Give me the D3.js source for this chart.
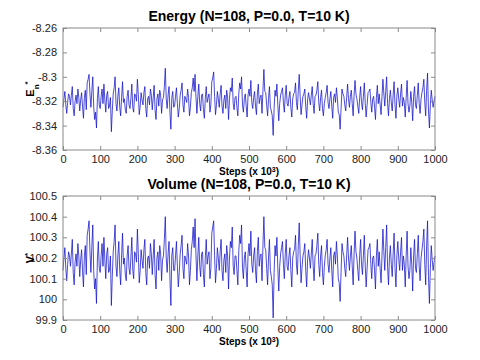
<!DOCTYPE html>
<html><head><meta charset="utf-8">
<script src="https://cdn.jsdelivr.net/npm/d3@7"></script>
<style>body{margin:0;background:#fff}svg{display:block}</style>
</head><body>
<svg id="c" width="480" height="360"></svg>
<script>
const stepInterval = 5; // x 10^3 steps between samples in the main arrays
// samples at steps 0,5,...,1000
const energy = [
-8.325,-8.312,-8.330,-8.314,-8.323,-8.308,-8.332,-8.315,-8.310,-8.328,
-8.313,-8.334,-8.311,-8.305,-8.298,-8.325,-8.300,-8.335,-8.342,-8.308,
-8.326,-8.310,-8.306,-8.329,-8.312,-8.324,-8.345,-8.314,-8.300,-8.328,
-8.309,-8.332,-8.304,-8.318,-8.330,-8.311,-8.326,-8.306,-8.329,-8.315,
-8.302,-8.331,-8.313,-8.323,-8.308,-8.333,-8.316,-8.310,-8.327,-8.307,
-8.335,-8.314,-8.311,-8.330,-8.317,-8.293,-8.326,-8.308,-8.343,-8.312,
-8.324,-8.309,-8.333,-8.315,-8.305,-8.329,-8.318,-8.310,-8.332,-8.313,
-8.301,-8.298,-8.330,-8.306,-8.328,-8.314,-8.334,-8.308,-8.317,-8.329,
-8.304,-8.296,-8.331,-8.312,-8.325,-8.307,-8.330,-8.315,-8.311,-8.335,
-8.309,-8.301,-8.327,-8.316,-8.332,-8.305,-8.300,-8.329,-8.314,-8.333,
-8.310,-8.303,-8.326,-8.312,-8.331,-8.306,-8.317,-8.330,-8.294,-8.313,
-8.332,-8.308,-8.328,-8.348,-8.311,-8.306,-8.336,-8.315,-8.309,-8.329,
-8.307,-8.324,-8.312,-8.333,-8.314,-8.305,-8.327,-8.298,-8.331,-8.316,
-8.310,-8.334,-8.313,-8.323,-8.308,-8.330,-8.315,-8.304,-8.328,-8.311,
-8.332,-8.317,-8.307,-8.326,-8.312,-8.334,-8.314,-8.309,-8.329,-8.343,
-8.310,-8.316,-8.328,-8.306,-8.325,-8.311,-8.332,-8.303,-8.318,-8.330,
-8.308,-8.327,-8.305,-8.333,-8.313,-8.310,-8.329,-8.316,-8.335,-8.307,
-8.314,-8.331,-8.302,-8.324,-8.300,-8.332,-8.311,-8.328,-8.304,-8.334,
-8.309,-8.325,-8.306,-8.317,-8.333,-8.303,-8.329,-8.312,-8.336,-8.308,
-8.326,-8.305,-8.330,-8.313,-8.302,-8.332,-8.297,-8.342,-8.311,-8.325,
-8.316];
// samples at steps 2.5,7.5,...,997.5
const energyMid = [
-8.318,-8.323,-8.321,-8.316,-8.315,-8.326,-8.320,-8.322,-8.317,-8.319,
-8.324,-8.317,-8.327,-8.302,-8.314,-8.312,-8.324,-8.329,-8.318,-8.323,
-8.316,-8.322,-8.319,-8.315,-8.326,-8.317,-8.328,-8.309,-8.322,-8.316,
-8.325,-8.317,-8.321,-8.327,-8.316,-8.323,-8.318,-8.325,-8.314,-8.320,
-8.315,-8.324,-8.319,-8.313,-8.326,-8.318,-8.323,-8.315,-8.317,-8.327,
-8.318,-8.324,-8.315,-8.319,-8.308,-8.318,-8.315,-8.329,-8.317,-8.325,
-8.316,-8.322,-8.326,-8.311,-8.323,-8.316,-8.321,-8.317,-8.325,-8.309,
-8.312,-8.317,-8.316,-8.322,-8.315,-8.327,-8.318,-8.321,-8.314,-8.323,
-8.301,-8.316,-8.323,-8.318,-8.314,-8.324,-8.319,-8.326,-8.317,-8.318,
-8.312,-8.322,-8.317,-8.325,-8.314,-8.310,-8.323,-8.318,-8.324,-8.315,
-8.316,-8.321,-8.317,-8.324,-8.314,-8.322,-8.315,-8.311,-8.312,-8.323,
-8.318,-8.325,-8.332,-8.326,-8.316,-8.323,-8.322,-8.312,-8.321,-8.315,
-8.322,-8.317,-8.325,-8.318,-8.313,-8.321,-8.311,-8.316,-8.323,-8.314,
-8.324,-8.319,-8.318,-8.315,-8.322,-8.316,-8.311,-8.321,-8.317,-8.326,
-8.322,-8.313,-8.321,-8.318,-8.324,-8.317,-8.321,-8.317,-8.331,-8.326,
-8.314,-8.323,-8.317,-8.318,-8.316,-8.322,-8.315,-8.314,-8.324,-8.317,
-8.321,-8.316,-8.322,-8.323,-8.312,-8.321,-8.318,-8.325,-8.317,-8.322,
-8.323,-8.316,-8.314,-8.312,-8.322,-8.318,-8.321,-8.315,-8.323,-8.316,
-8.318,-8.314,-8.324,-8.321,-8.317,-8.322,-8.324,-8.321,-8.316,-8.323,
-8.315,-8.322,-8.318,-8.309,-8.321,-8.311,-8.328,-8.323,-8.319,-8.320];
const volume = [
100.14,100.25,100.09,100.23,100.16,100.29,100.07,100.22,100.27,100.11,
100.24,100.06,100.26,100.31,100.38,100.13,100.36,100.05,99.98,100.28,
100.13,100.27,100.30,100.10,100.25,100.14,99.97,100.23,100.36,100.11,
100.28,100.07,100.32,100.20,100.09,100.26,100.12,100.30,100.10,100.22,
100.34,100.08,100.24,100.15,100.29,100.07,100.21,100.27,100.12,100.29,
100.05,100.23,100.26,100.09,100.21,100.40,100.13,100.28,99.97,100.25,
100.14,100.28,100.06,100.22,100.31,100.10,100.19,100.27,100.07,100.24,
100.35,100.39,100.09,100.30,100.11,100.23,100.06,100.29,100.21,100.10,
100.32,100.38,100.08,100.25,100.14,100.29,100.09,100.22,100.26,100.05,
100.28,100.35,100.12,100.21,100.07,100.31,100.36,100.10,100.23,100.06,
100.27,100.33,100.13,100.25,100.08,100.30,100.21,100.09,100.40,100.24,
100.07,100.29,100.11,99.91,100.26,100.30,100.04,100.22,100.28,100.10,
100.29,100.14,100.25,100.06,100.23,100.31,100.12,100.37,100.08,100.21,
100.27,100.06,100.24,100.15,100.29,100.09,100.22,100.32,100.11,100.26,
100.07,100.21,100.29,100.13,100.25,100.06,100.23,100.28,100.10,99.99,
100.27,100.21,100.11,100.30,100.14,100.26,100.07,100.33,100.20,100.09,
100.29,100.12,100.31,100.06,100.24,100.27,100.10,100.21,100.05,100.29,
100.23,100.08,100.34,100.14,100.36,100.07,100.26,100.11,100.32,100.06,
100.28,100.14,100.30,100.21,100.06,100.33,100.10,100.25,100.04,100.29,
100.13,100.31,100.09,100.24,100.34,100.07,100.38,99.98,100.26,100.14,
100.21];
const volumeMid = [
100.20,100.15,100.17,100.21,100.22,100.13,100.18,100.16,100.21,100.19,
100.14,100.21,100.12,100.34,100.23,100.25,100.14,100.10,100.20,100.15,
100.21,100.16,100.19,100.22,100.13,100.21,100.11,100.28,100.16,100.21,
100.14,100.21,100.17,100.12,100.21,100.15,100.20,100.14,100.23,100.18,
100.22,100.14,100.19,100.24,100.13,100.20,100.15,100.22,100.21,100.12,
100.20,100.14,100.22,100.19,100.29,100.20,100.22,100.10,100.21,100.14,
100.21,100.16,100.13,100.26,100.15,100.21,100.17,100.21,100.14,100.28,
100.25,100.21,100.21,100.16,100.22,100.12,100.20,100.17,100.23,100.15,
100.35,100.21,100.15,100.20,100.23,100.14,100.19,100.13,100.21,100.20,
100.25,100.16,100.21,100.14,100.23,100.27,100.15,100.20,100.14,100.22,
100.21,100.17,100.21,100.14,100.23,100.16,100.22,100.26,100.25,100.15,
100.20,100.14,100.07,100.13,100.21,100.15,100.16,100.25,100.17,100.22,
100.16,100.21,100.14,100.20,100.24,100.17,100.26,100.21,100.15,100.23,
100.14,100.19,100.20,100.22,100.16,100.21,100.26,100.17,100.21,100.13,
100.16,100.24,100.17,100.20,100.14,100.21,100.17,100.21,100.08,100.13,
100.23,100.15,100.21,100.20,100.21,100.16,100.22,100.23,100.14,100.21,
100.17,100.21,100.16,100.15,100.25,100.17,100.20,100.14,100.21,100.16,
100.15,100.21,100.23,100.25,100.16,100.20,100.17,100.22,100.15,100.21,
100.20,100.23,100.14,100.17,100.21,100.16,100.14,100.17,100.21,100.15,
100.22,100.16,100.20,100.28,100.17,100.26,100.11,100.15,100.19,100.18];
const xTicks = [0,100,200,300,400,500,600,700,800,900,1000];
const eTicks = [-8.36,-8.34,-8.32,-8.3,-8.28,-8.26];
const eTickLabels = ["-8.36","-8.34","-8.32","-8.3","-8.28","-8.26"];
const vTicks = [99.9,100,100.1,100.2,100.3,100.4,100.5];
const vTickLabels = ["99.9","100","100.1","100.2","100.3","100.4","100.5"];

// merge on-grid and half-step samples into one time-ordered series
function merge(main, mid){
  const out = [];
  main.forEach((v,i)=>{
    out.push({s:i*stepInterval, v:v});
    if (i < mid.length) out.push({s:i*stepInterval + stepInterval/2, v:mid[i]});
  });
  return out;
}

const svg = d3.select("#c");
const font = "Liberation Sans, Arial, sans-serif";

function panel(cfg){
  const g = svg.append("g");
  const x = d3.scaleLinear().domain([0,1000]).range([cfg.left,cfg.right]);
  const y = d3.scaleLinear().domain(cfg.domain).range([cfg.bottom,cfg.top]);
  const line = d3.line().x(d=>x(d.s)).y(d=>y(d.v));
  g.append("path").datum(cfg.data).attr("d",line)
    .attr("fill","none").attr("stroke","#1010c8").attr("stroke-width",0.75)
    .attr("stroke-linejoin","round");
  const axCol = "#8a8a8a";
  g.append("rect").attr("x",cfg.left).attr("y",cfg.top)
    .attr("width",cfg.right-cfg.left).attr("height",cfg.bottom-cfg.top)
    .attr("fill","none").attr("stroke",axCol).attr("stroke-width",1);
  const ax = (axis, tr) => {
    const a = g.append("g").attr("transform",tr).call(axis);
    a.select(".domain").remove();
    a.selectAll("line").attr("stroke",axCol);
    a.selectAll("text").attr("font-family",font).attr("font-size",11).attr("fill","#222");
    return a;
  };
  ax(d3.axisBottom(x).tickValues(xTicks).tickSize(-4).tickPadding(5).tickFormat(d3.format("d")),
     `translate(0,${cfg.bottom})`);
  ax(d3.axisTop(x).tickValues(xTicks).tickSize(-4).tickFormat(""), `translate(0,${cfg.top})`);
  ax(d3.axisLeft(y).tickValues(cfg.ticks).tickSize(-4).tickPadding(6)
     .tickFormat((d,i)=>cfg.labels[i]), `translate(${cfg.left},0)`);
  ax(d3.axisRight(y).tickValues(cfg.ticks).tickSize(-4).tickFormat(""), `translate(${cfg.right},0)`);
  g.append("text").attr("x",(cfg.left+cfg.right)/2).attr("y",cfg.top-7)
    .attr("text-anchor","middle").attr("font-family",font).attr("font-weight","bold")
    .attr("font-size",14).attr("fill","#000").text(cfg.title);
  const xl = g.append("text").attr("x",(cfg.left+cfg.right)/2).attr("y",cfg.bottom+25)
    .attr("text-anchor","middle").attr("font-family",font).attr("font-weight","bold")
    .attr("font-size",10).attr("fill","#000");
  xl.append("tspan").text("Steps (x 10");
  xl.append("tspan").attr("baseline-shift","super").attr("font-size",7).text("3");
  xl.append("tspan").text(")");
  const yl = g.append("text").attr("transform",`translate(${cfg.left-29},${(cfg.top+cfg.bottom)/2}) rotate(-90)`)
    .attr("text-anchor","middle").attr("font-family",font).attr("font-weight","bold")
    .attr("font-size",11).attr("fill","#000");
  yl.append("tspan").text(cfg.ylab);
  if (cfg.ysub) yl.append("tspan").attr("baseline-shift","sub").attr("font-size",8).text(cfg.ysub);
  yl.append("tspan").attr("baseline-shift","super").attr("font-size",8).text("*");
}

panel({left:63,right:435,top:28,bottom:150,domain:[-8.36,-8.26],data:merge(energy,energyMid),
  ticks:eTicks,labels:eTickLabels,title:"Energy (N=108, P=0.0, T=10 K)",ylab:"E",ysub:"n"});
panel({left:63,right:435,top:196,bottom:320,domain:[99.9,100.5],data:merge(volume,volumeMid),
  ticks:vTicks,labels:vTickLabels,title:"Volume (N=108, P=0.0, T=10 K)",ylab:"V",ysub:null});
</script>
</body></html>
